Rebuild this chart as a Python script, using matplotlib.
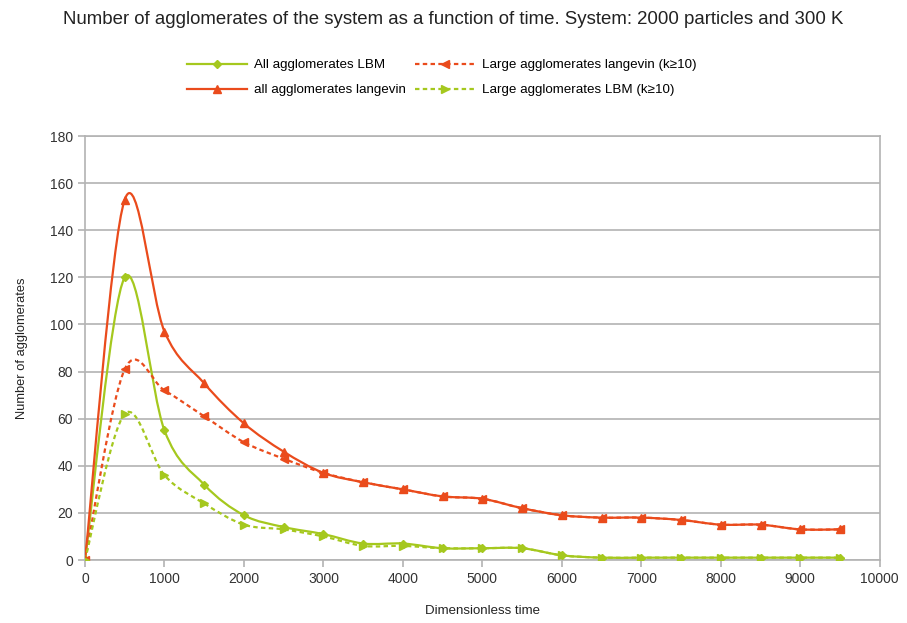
import numpy as np
import matplotlib
matplotlib.use("Agg")
import matplotlib.pyplot as plt
from matplotlib.path import Path
from matplotlib.patches import PathPatch
from matplotlib.lines import Line2D

plt.rcParams['font.family'] = ['Liberation Sans', 'DejaVu Sans']

time = [0, 500, 1000, 1500, 2000, 2500, 3000, 3500, 4000, 4500,
        5000, 5500, 6000, 6500, 7000, 7500, 8000, 8500, 9000, 9500]

all_lbm = [0, 120, 55, 32, 19, 14, 11, 7, 7, 5,
           5, 5, 2, 1, 1, 1, 1, 1, 1, 1]
all_langevin = [0, 153, 97, 75, 58, 46, 37, 33, 30, 27,
                26, 22, 19, 18, 18, 17, 15, 15, 13, 13]
large_langevin = [0, 81, 72, 61, 50, 43, 37, 33, 30, 27,
                  26, 22, 19, 18, 18, 17, 15, 15, 13, 13]
large_lbm = [0, 62, 36, 24, 15, 13, 10, 6, 6, 5,
             5, 5, 2, 1, 1, 1, 1, 1, 1, 1]

GREEN = "#a5c81e"
RED = "#ea4b1c"


def smooth_path(x, y):
    # Catmull-Rom through the points, turned into cubic bezier pieces
    pts = np.column_stack([x, y]).astype(float)
    n = len(pts)
    verts = [pts[0]]
    codes = [Path.MOVETO]
    for i in range(n - 1):
        p0 = pts[max(i - 1, 0)]
        p1 = pts[i]
        p2 = pts[i + 1]
        p3 = pts[min(i + 2, n - 1)]
        verts += [p1 + (p2 - p0) / 6, p2 - (p3 - p1) / 6, p2]
        codes += [Path.CURVE4] * 3
    return Path(verts, codes)


fig = plt.figure(figsize=(9.07, 6.23), dpi=100)
ax = fig.add_axes([0.0937, 0.1011, 0.8763, 0.6806])

series = [
    (all_lbm, GREEN, "-", "D", 4.5, "All agglomerates LBM"),
    (all_langevin, RED, "-", "^", 6, "all agglomerates langevin"),
    (large_langevin, RED, (0, (2, 1.5)), "<", 6, "Large agglomerates langevin (k\u226510)"),
    (large_lbm, GREEN, (0, (2, 1.5)), ">", 6, "Large agglomerates LBM (k\u226510)"),
]

handles = []
for vals, col, ls, mk, ms, lab in series:
    patch = PathPatch(smooth_path(time, vals), fill=False, edgecolor=col,
                      linewidth=1.6, linestyle=ls, zorder=3)
    ax.add_patch(patch)
    ax.plot(time, vals, linestyle="none", marker=mk, markersize=ms,
            color=col, zorder=4)
    handles.append(Line2D([], [], color=col, linestyle=ls, linewidth=1.6,
                          marker=mk, markersize=ms, label=lab))

ax.set_xlim(0, 10000)
ax.set_ylim(0, 180)
ax.set_xticks(range(0, 10001, 1000))
ax.set_yticks(range(0, 181, 20))
ax.yaxis.grid(True, color="#b3b3b3", linewidth=1.2)
ax.set_axisbelow(True)
for s in ax.spines.values():
    s.set_color("#b3b3b3")
    s.set_linewidth(1.2)
ax.tick_params(colors="#b3b3b3", labelcolor="#333333", labelsize=10,
               length=5, width=1.2, direction="out")

ax.set_xlabel("Dimensionless time", fontsize=9.5, color="#222222", labelpad=14)
ax.set_ylabel("Number of agglomerates", fontsize=9.3, color="#222222", labelpad=16)

fig.text(0.5, 0.968, "Number of agglomerates of the system as a function of time. "
         "System: 2000 particles and 300 K", ha="center", va="center",
         fontsize=13.4, color="#222222")

fig.legend(handles=handles, loc="center", bbox_to_anchor=(0.487, 0.8755), ncol=2,
           frameon=False, fontsize=9.6, handlelength=4.5,
           columnspacing=0.7, labelspacing=0.95, handletextpad=0.5)

fig.savefig("out.png", dpi=100)
